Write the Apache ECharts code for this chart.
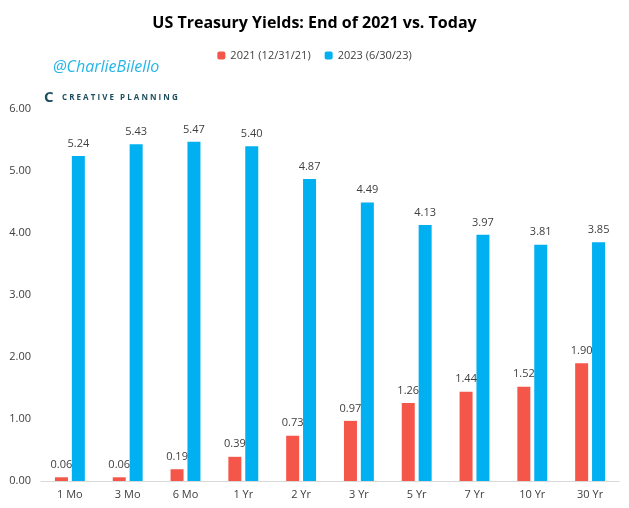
<!DOCTYPE html>
<html><head><meta charset="utf-8">
<script src="https://cdn.jsdelivr.net/npm/echarts@6/dist/echarts.min.js"></script>
<style>html,body{margin:0;padding:0;background:#fff}#c{width:629px;height:508px}</style>
</head><body><div id="c"></div>
<script>
const categories = ['1 Mo','3 Mo','6 Mo','1 Yr','2 Yr','3 Yr','5 Yr','7 Yr','10 Yr','30 Yr'];
const yields2021 = [0.06,0.06,0.19,0.39,0.73,0.97,1.26,1.44,1.52,1.90];
const yields2023 = [5.24,5.43,5.47,5.40,4.87,4.49,4.13,3.97,3.81,3.85];
const seriesNames = ['2021 (12/31/21)','2023 (6/30/23)'];

const chart = echarts.init(document.getElementById('c'));
const lbl = {show:true, position:'top', distance:7, formatter:p=>p.value.toFixed(2), color:'#404040', fontSize:11, fontFamily:'Open Sans'};
chart.setOption({
  animation:false,
  title:{text:'US Treasury Yields: End of 2021 vs. Today', left:'center', top:10,
    textStyle:{fontSize:16, fontWeight:'bold', color:'#000', fontFamily:'Open Sans'}},
  legend:{data:seriesNames, top:45, left:'center', itemWidth:8, itemHeight:8, itemGap:14,
    textStyle:{fontSize:11, color:'#404040', fontFamily:'Open Sans'}},
  grid:{left:41, right:10, top:109, bottom:27, containLabel:false},
  xAxis:{type:'category', data:categories,
    axisLine:{lineStyle:{color:'#d9d9d9'}}, axisTick:{show:false},
    axisLabel:{color:'#404040', fontSize:11, fontFamily:'Open Sans', margin:8}},
  yAxis:{type:'value', min:0, max:6, interval:1,
    axisLine:{show:false}, axisTick:{show:false}, splitLine:{show:false},
    axisLabel:{formatter:v=>v.toFixed(2), color:'#404040', fontSize:11, fontFamily:'Open Sans', margin:10}},
  series:[
    {name:seriesNames[0], type:'bar', data:yields2021, barWidth:13, barGap:'30%', itemStyle:{color:'#F4574A'}, label:lbl},
    {name:seriesNames[1], type:'bar', data:yields2023, barWidth:13, itemStyle:{color:'#00B0F0'}, label:lbl}
  ],
  graphic:[
    {type:'text', left:53, top:59, style:{text:'@CharlieBilello', fill:'#25B6E8', font:'italic 16px "Open Sans"'}},
    {type:'text', left:44, top:90, style:{text:'C', fill:'#1F4E5F', font:'bold 15px "Open Sans"'}},
    {type:'text', left:62, top:94, style:{text:'C R E A T I V E   P L A N N I N G', fill:'#1F4E5F', font:'bold 8px "Open Sans"'}}
  ]
});
</script></body></html>
